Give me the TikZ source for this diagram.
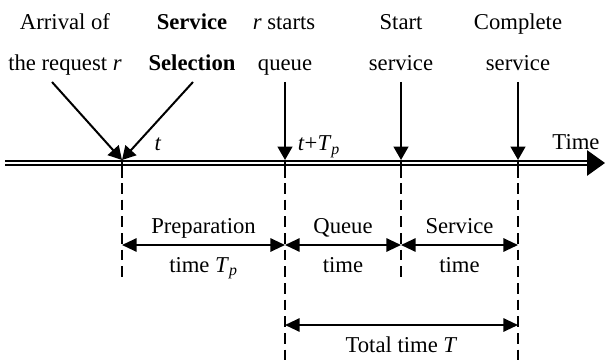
\documentclass[tikz,border=0pt]{standalone}
\usepackage{fontspec}
\setmainfont{Liberation Serif}
\usetikzlibrary{arrows.meta}

\tikzset{
  lbl/.style={font=\fontsize{17}{20}\selectfont, inner sep=0pt, anchor=base},
  boldlbl/.style={lbl, font=\fontsize{17}{20}\selectfont\bfseries},
  downarrow/.style={line width=1.5pt, -{Triangle[length=10pt,width=11pt]}},
  spanarrow/.style={line width=1.5pt, {Triangle[length=11pt,width=10pt]}-{Triangle[length=11pt,width=10pt]}},
  dashline/.style={line width=1.1pt, dash pattern=on 8pt off 4.5pt},
  tickline/.style={line width=1.1pt}
}

\begin{document}
\begin{tikzpicture}[x=0.75pt, y=-0.75pt]
\useasboundingbox (0,0) rectangle (605,363);

% time axis
\coordinate (ax0) at (5,163);
\coordinate (ax1) at (588,163);
\coordinate (axtip) at (605,163);
\draw[line width=1.8pt, double, double distance=1.1pt] (ax0) -- (ax1);
\draw[line width=1.5pt, -{Triangle[length=13.5pt,width=19pt]}] (ax1) -- (axtip);
\node[lbl] (timelabel) at (576,150) {Time};

% events on the axis
\coordinate (tA) at (122,160);
\coordinate (tB) at (285,160);
\coordinate (tC) at (401,160);
\coordinate (tD) at (518,160);
\node[lbl] (tlabel) at (158,151) {\textit{t}};
\node[lbl] (tplabel) at (319,151) {\textit{t}+\textit{T}\textsubscript{\textit{p}}};

% event labels
\node[lbl] (arrivalA) at (65,30) {Arrival of};
\node[lbl] (arrivalB) at (65,71) {the request \textit{r}};
\node[boldlbl] (selectA) at (192,30) {Service};
\node[boldlbl] (selectB) at (192,71) {Selection};
\node[lbl] (queueA) at (284,30) {\textit{r} starts};
\node[lbl] (queueB) at (285,71) {queue};
\node[lbl] (startA) at (401,30) {Start};
\node[lbl] (startB) at (401,71) {service};
\node[lbl] (doneA) at (518,30) {Complete};
\node[lbl] (doneB) at (518,71) {service};

% arrows down to the axis
\draw[downarrow] (arrivalB.base) ++(-13,11) -- (tA);
\draw[downarrow] (selectB.base) ++(1,11) -- (tA);
\draw[downarrow] (queueB.base) ++(0,11) -- (tB);
\draw[downarrow] (startB.base) ++(0,11) -- (tC);
\draw[downarrow] (doneB.base) ++(0,11) -- (tD);

% ticks and dashed guides
\coordinate (bA) at (122,283);
\coordinate (bB) at (285,363);
\coordinate (bC) at (401,283);
\coordinate (bD) at (518,363);
\foreach \p in {A,B,C,D}{
  \draw[tickline] (t\p) -- ++(0,18);
  \draw[dashline] (t\p) ++(0,23) -- (b\p);
}

% durations
\coordinate (rowA) at (0,245);
\coordinate (rowB) at (0,325);
\draw[spanarrow] (tA |- rowA) -- (tB |- rowA);
\draw[spanarrow] (tB |- rowA) -- (tC |- rowA);
\draw[spanarrow] (tC |- rowA) -- (tD |- rowA);
\draw[spanarrow] (tB |- rowB) -- (tD |- rowB);
\node[lbl] (prepA) at (203.5,233) {Preparation};
\node[lbl] (prepB) at (203.5,272) {time \textit{T}\textsubscript{\textit{p}}};
\node[lbl] (waitA) at (343,233) {Queue};
\node[lbl] (waitB) at (343,272) {time};
\node[lbl] (servA) at (459.5,233) {Service};
\node[lbl] (servB) at (459.5,272) {time};
\node[lbl] (total) at (401.5,352) {Total time \textit{T}};
\end{tikzpicture}
\end{document}
